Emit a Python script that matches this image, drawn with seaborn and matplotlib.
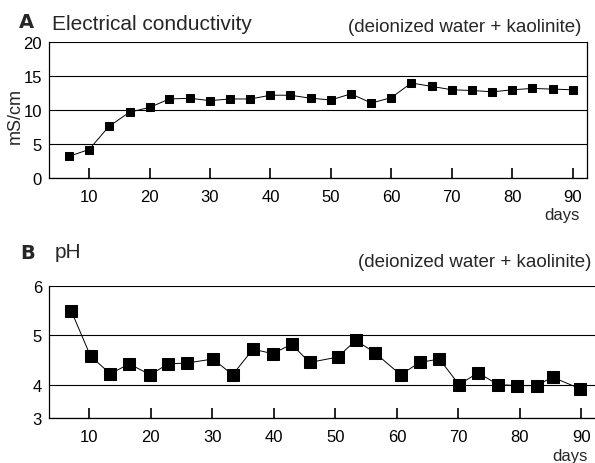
import matplotlib
matplotlib.use("Agg")
import matplotlib.pyplot as plt
import seaborn as sns
import pandas as pd

# panel A: electrical conductivity (mS/cm)
days_ec = [6.7, 10, 13.3, 16.7, 20, 23.3, 26.7, 30, 33.3, 36.7, 40, 43.3, 46.7,
           50, 53.3, 56.7, 60, 63.3, 66.7, 70, 73.3, 76.7, 80, 83.3, 86.7, 90]
ec_values = [3.2, 4.2, 7.6, 9.7, 10.4, 11.65, 11.75, 11.4, 11.65, 11.65, 12.2, 12.2, 11.75,
             11.5, 12.4, 11.05, 11.85, 14.0, 13.5, 13.0, 12.9, 12.7, 13.0, 13.2, 13.1, 13.0]

# panel B: pH
days_ph = [7.1, 10.2, 13.4, 16.5, 19.9, 22.8, 25.9, 30.1, 33.3, 36.6, 39.8, 42.9, 45.8,
           50.4, 53.3, 56.4, 60.6, 63.7, 66.9, 70.1, 73.2, 76.4, 79.6, 82.7, 85.3, 89.7]
ph_values = [5.49, 4.58, 4.22, 4.42, 4.2, 4.42, 4.44, 4.52, 4.2, 4.72, 4.63, 4.82, 4.45,
             4.56, 4.9, 4.65, 4.2, 4.45, 4.52, 4.0, 4.24, 4.0, 3.98, 3.98, 4.15, 3.92]

x_ticks = [10, 20, 30, 40, 50, 60, 70, 80, 90]

sns.set_style("white")
plt.rcParams['font.family'] = ['Liberation Sans', 'DejaVu Sans']

W, H = 595, 464
fig = plt.figure(figsize=(W / 100, H / 100), dpi=100)


def px(x, y):
    # pixel position -> figure fraction
    return x / W, 1 - y / H


df_a = pd.DataFrame({"day": days_ec, "ec": ec_values})
df_b = pd.DataFrame({"day": days_ph, "ph": ph_values})

# ---- panel A
ax1 = fig.add_axes([49 / W, 1 - 179 / H, (586.7 - 49) / W, (179 - 43.3) / H])
sns.lineplot(data=df_a, x="day", y="ec", ax=ax1, color="black", lw=0.7,
             marker="s", markersize=6, markeredgecolor="black", markerfacecolor="black")
ax1.set_xlim(3.38, 92.3)
ax1.set_ylim(0, 20)
ax1.set_yticks([0, 5, 10, 15, 20])
ax1.set_xticks(x_ticks)
ax1.grid(axis="y", color="black", lw=0.8)
ax1.set_xlabel("")
ax1.set_ylabel("")
for s in ["left", "bottom", "right"]:
    ax1.spines[s].set_visible(True)
    ax1.spines[s].set_color("black")
    ax1.spines[s].set_linewidth(0.9)
ax1.spines["top"].set_visible(False)

# ---- panel B
ax2 = fig.add_axes([49 / W, 1 - 419 / H, (595 - 49) / W, (419 - 287.3) / H])
sns.lineplot(data=df_b, x="day", y="ph", ax=ax2, color="black", lw=0.7,
             marker="s", markersize=8.5, markeredgecolor="black", markerfacecolor="black")
ax2.set_xlim(3.45, 92.2)
ax2.set_ylim(3.32, 6)
ax2.set_yticks([3.32, 4, 5, 6], labels=["3", "4", "5", "6"])
ax2.set_xticks(x_ticks)
ax2.grid(axis="y", color="black", lw=0.8)
ax2.set_xlabel("")
ax2.set_ylabel("")
for s in ["left", "bottom"]:
    ax2.spines[s].set_visible(True)
    ax2.spines[s].set_color("black")
    ax2.spines[s].set_linewidth(0.9)
ax2.spines["top"].set_visible(False)
ax2.spines["right"].set_visible(False)

for ax in (ax1, ax2):
    ax.tick_params(axis="x", direction="in", length=7, width=1.2, pad=8,
                   labelsize=12, colors="black", bottom=True)
    ax.tick_params(axis="y", length=0, pad=5, labelsize=12, labelcolor="black")

# ---- texts
fig.text(*px(19, 28.5), "A", fontsize=14, fontweight="bold", family="DejaVu Sans",
         va="baseline", ha="left")
fig.text(*px(52, 29.5), "Electrical conductivity", fontsize=15, va="baseline", ha="left")
fig.text(*px(581, 32), "(deionized water + kaolinite)", fontsize=13.5, va="baseline", ha="right")
fig.text(*px(15, 116), "mS/cm", fontsize=13, rotation=90, va="center", ha="center")
fig.text(*px(580, 216), "days", fontsize=12, va="center", ha="right")

fig.text(*px(20, 259), "B", fontsize=14, fontweight="bold", family="DejaVu Sans",
         va="baseline", ha="left")
fig.text(*px(55, 258), "pH", fontsize=15, va="baseline", ha="left")
fig.text(*px(591.7, 266.7), "(deionized water + kaolinite)", fontsize=13.5, va="baseline", ha="right")
fig.text(*px(588, 457), "days", fontsize=12, va="center", ha="right")

fig.savefig("out.png", dpi=100, facecolor="white")
